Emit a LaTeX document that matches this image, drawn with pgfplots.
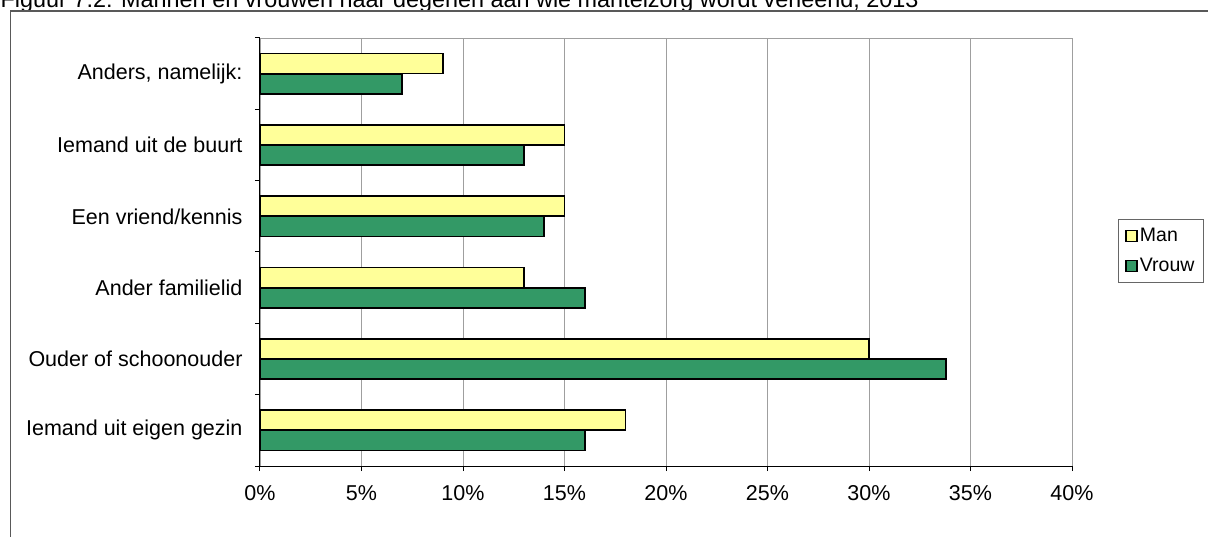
\documentclass[border=0pt]{standalone}
\usepackage{pgfplots}
\pgfplotsset{compat=1.18}
\usepackage{fontspec}
\setmainfont{Liberation Sans}
\definecolor{manyellow}{HTML}{FFFF99}
\definecolor{vrouwgreen}{HTML}{339966}
\pgfplotsset{sqlegend/.style={legend image code/.code={\draw[##1, line width=1.5pt] (0pt,-5.5pt) rectangle (11pt,5.5pt);}}}
\begin{document}
\begin{tikzpicture}[x=1pt,y=1pt]
\useasboundingbox (0,0) rectangle (1208,536);
\clip (0,0) rectangle (1208,536);
\node[anchor=base west, inner sep=0pt, font=\fontsize{23.4}{28}\selectfont] at (0.5,528) {Figuur 7.2: Mannen en vrouwen naar degenen aan wie mantelzorg wordt verleend, 2013};
\draw[black!65, line width=1.2pt] (10.5,-60) -- (10.5,525) -- (1240,525);
\begin{axis}[
  at={(260pt,70pt)}, anchor=south west,
  scale only axis, width=812pt, height=428pt,
  xbar, bar width=20pt,
  xmin=0, xmax=40, ymin=-0.5, ymax=5.5,
  axis lines=left, axis line style={-, black, line width=1pt},
  xtick={0,5,...,40},
  xticklabel={\pgfmathprintnumber{\tick}\%},
  ytick={-0.5,0.5,1.5,2.5,3.5,4.5,5.5},
  yticklabel=\empty,
  extra y ticks={0,1,2,3,4,5},
  extra y tick labels={Iemand uit eigen gezin, Ouder of schoonouder, Ander familielid, Een vriend/kennis, Iemand uit de buurt, {Anders, namelijk:}},
  extra y tick style={major tick length=0pt, grid=none, yticklabel style={xshift=-14pt}},
  tick align=outside, major tick length=5pt,
  tick style={black, line width=1pt},
  xmajorgrids, major grid style={gray!75, line width=0.9pt},
  ticklabel style={font=\fontsize{21.5}{26}\selectfont},
  xticklabel style={yshift=-11pt},
  /pgf/number format/assume math mode=true,
  legend style={at={(1.0567,0.5771)}, anchor=north west, draw=black!60, line width=0.8pt,
    font=\fontsize{19.5}{23}\selectfont, inner xsep=7pt, inner ysep=7pt, row sep=11pt},
  legend cell align=left,
  clip=false,
]
\draw[gray!75, line width=0.9pt] (rel axis cs:0,1) -- (rel axis cs:1,1);
\addplot[fill=manyellow, draw=black, line width=1.8pt, bar shift=10.25pt, sqlegend]
  coordinates {(18,0) (30,1) (13,2) (15,3) (15,4) (9,5)};
\addplot[fill=vrouwgreen, draw=black, line width=1.8pt, bar shift=-10.25pt, sqlegend]
  coordinates {(16,0) (33.8,1) (16,2) (14,3) (13,4) (7,5)};
\legend{Man, Vrouw}
\end{axis}
\end{tikzpicture}
\end{document}
